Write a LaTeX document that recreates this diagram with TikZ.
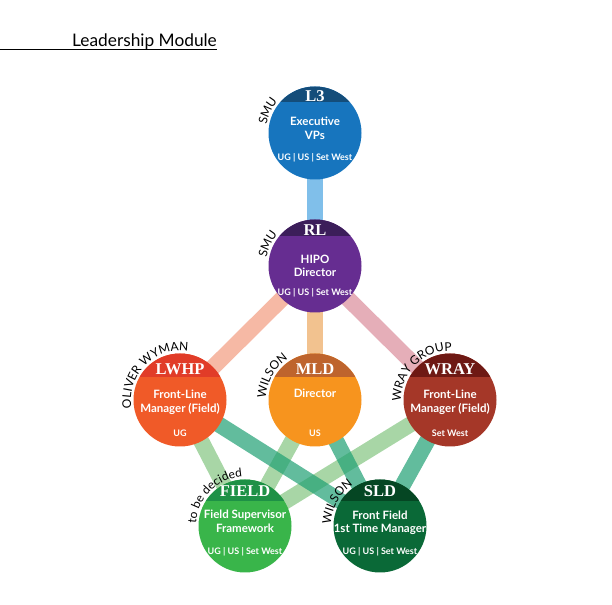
\documentclass[tikz,border=0pt]{standalone}
\usepackage{fontspec}
\setmainfont{Liberation Serif}
\setsansfont{Lato}
\usetikzlibrary{calc,positioning,backgrounds,decorations.text}

\definecolor{l3blue}{RGB}{23,117,190}
\definecolor{l3band}{RGB}{20,77,122}
\definecolor{rlpurple}{RGB}{102,45,145}
\definecolor{rlband}{RGB}{60,30,90}
\definecolor{lwhporange}{RGB}{240,90,40}
\definecolor{lwhpband}{RGB}{225,60,40}
\definecolor{mldorange}{RGB}{247,148,30}
\definecolor{mldband}{RGB}{190,100,45}
\definecolor{wrayred}{RGB}{165,55,40}
\definecolor{wrayband}{RGB}{110,25,20}
\definecolor{fieldgreen}{RGB}{57,181,74}
\definecolor{fieldband}{RGB}{30,145,70}
\definecolor{sldgreen}{RGB}{10,105,55}
\definecolor{sldband}{RGB}{5,70,35}
\definecolor{bluelink}{RGB}{128,191,234}
\definecolor{salmonlink}{RGB}{246,185,165}
\definecolor{orangelink}{RGB}{242,194,143}
\definecolor{pinklink}{RGB}{229,174,184}
\definecolor{teallink}{RGB}{32,160,115}
\definecolor{greenlink}{RGB}{110,187,107}

\tikzset{
  module/.style n args={3}{circle, minimum size=93pt, inner sep=0pt, fill=#1,
    path picture={\fill[#2] (path picture bounding box.north west) rectangle ([yshift=-#3]path picture bounding box.north east);}},
  head/.style={anchor=base, text=white, inner sep=0pt, font=\rmfamily\bfseries\fontsize{16.5}{18}\selectfont},
  role/.style={align=center, text=white, inner sep=0pt, font=\sffamily\bfseries\fontsize{11.5}{13.5}\selectfont},
  sites/.style={anchor=base, text=white, inner sep=0pt, font=\sffamily\bfseries\fontsize{9}{10}\selectfont},
  link/.style={line width=16pt},
  tolevel/.style={link, teallink, opacity=0.7},
  tofield/.style={link, greenlink, opacity=0.6},
  provider/.style={decorate, decoration={text along path, text align=center,
    text={|\sffamily\fontsize{12}{14}\selectfont|#1}}},
}

\begin{document}
\begin{tikzpicture}[x=1pt, y=1pt]
    \useasboundingbox (0,0) rectangle (612,604);

    % Titel
    \node[anchor=base west, inner sep=0pt, font=\sffamily\fontsize{17.3}{20}\selectfont] (title) at (72,557) {Leadership Module};
    \coordinate (rule) at (0,555);
    \draw[line width=0.8pt] (rule) -- (rule -| title.east);

    % Module
    \node[module={l3blue}{l3band}{16pt}] (l3) at (315,471) {};
    \node[head] (l3head) at ($(l3)+(0,31)$) {L3};
    \node[role] (l3role) at ($(l3)+(0,4.5)$) {Executive\\VPs};
    \node[sites] (l3sites) at ($(l3)+(0,-28)$) {UG | US | Set West};

    \node[module={rlpurple}{rlband}{17pt}] (rl) at (315,338) {};
    \node[head] (rlhead) at ($(rl)+(0,30)$) {RL};
    \node[role] (rlrole) at ($(rl)+(0,0)$) {HIPO\\Director};
    \node[sites] (rlsites) at ($(rl)+(0,-30)$) {UG | US | Set West};

    \node[module={lwhporange}{lwhpband}{24pt}] (lwhp) at (180,204) {};
    \node[head] (lwhphead) at ($(lwhp)+(0,25)$) {LWHP};
    \node[role] (lwhprole) at ($(lwhp)+(0,-2.5)$) {Front-Line\\Manager (Field)};
    \node[sites] (lwhpsites) at ($(lwhp)+(0,-37)$) {UG};

    \node[module={mldorange}{mldband}{24pt}] (mld) at (315,204) {};
    \node[head] (mldhead) at ($(mld)+(0,25)$) {MLD};
    \node[role, anchor=base] (mldrole) at ($(mld)+(0,2)$) {Director};
    \node[sites] (mldsites) at ($(mld)+(0,-37)$) {US};

    \node[module={wrayred}{wrayband}{24pt}] (wray) at (450,204) {};
    \node[head] (wrayhead) at ($(wray)+(0,25)$) {WRAY};
    \node[role] (wrayrole) at ($(wray)+(0,-2.5)$) {Front-Line\\Manager (Field)};
    \node[sites] (wraysites) at ($(wray)+(0,-37)$) {Set West};

    \node[module={fieldgreen}{fieldband}{22pt}] (field) at (245,78) {};
    \node[head] (fieldhead) at ($(field)+(0,29.5)$) {FIELD};
    \node[role] (fieldrole) at ($(field)+(0,4.5)$) {Field Supervisor\\Framework};
    \node[sites] (fieldsites) at ($(field)+(0,-28.5)$) {UG | US | Set West};

    \node[module={sldgreen}{sldband}{22pt}] (sld) at (380,78) {};
    \node[head] (sldhead) at ($(sld)+(0,29.5)$) {SLD};
    \node[role] (sldrole) at ($(sld)+(0,3)$) {Front Field\\1st Time Manager};
    \node[sites] (sldsites) at ($(sld)+(0,-28.5)$) {UG | US | Set West};

    % Anbieter
    \path[provider={SMU}] ($(l3)+(180:49)$) arc[start angle=180, end angle=130, radius=49];
    \path[provider={SMU}] ($(rl)+(180:49)$) arc[start angle=180, end angle=130, radius=49];
    \path[provider={OLIVER WYMAN}] ($(lwhp)+(195:49)$) arc[start angle=195, end angle=75, radius=49];
    \path[provider={WILSON}] ($(mld)+(185:49)$) arc[start angle=185, end angle=117, radius=49];
    \path[provider={WRAY GROUP}] ($(wray)+(195:49)$) arc[start angle=195, end angle=75, radius=49];
    \path[provider={to be decided}] ($(field)+(195:49)$) arc[start angle=195, end angle=75, radius=49];
    \path[provider={WILSON}] ($(sld)+(185:49)$) arc[start angle=185, end angle=117, radius=49];

    % Verbindungen
    \begin{scope}[on background layer]
        \draw[link, bluelink] (l3.center) -- (rl.center);
        \draw[link, salmonlink] (rl.center) -- (lwhp.center);
        \draw[link, orangelink] (rl.center) -- (mld.center);
        \draw[link, pinklink] (rl.center) -- (wray.center);
        \draw[tofield] (lwhp.center) -- (field.center);
        \draw[tofield] (mld.center) -- (field.center);
        \draw[tofield] (wray.center) -- (field.center);
        \draw[tolevel] (lwhp.center) -- (sld.center);
        \draw[tolevel] (mld.center) -- (sld.center);
        \draw[tolevel] (wray.center) -- (sld.center);
    \end{scope}
\end{tikzpicture}
\end{document}
